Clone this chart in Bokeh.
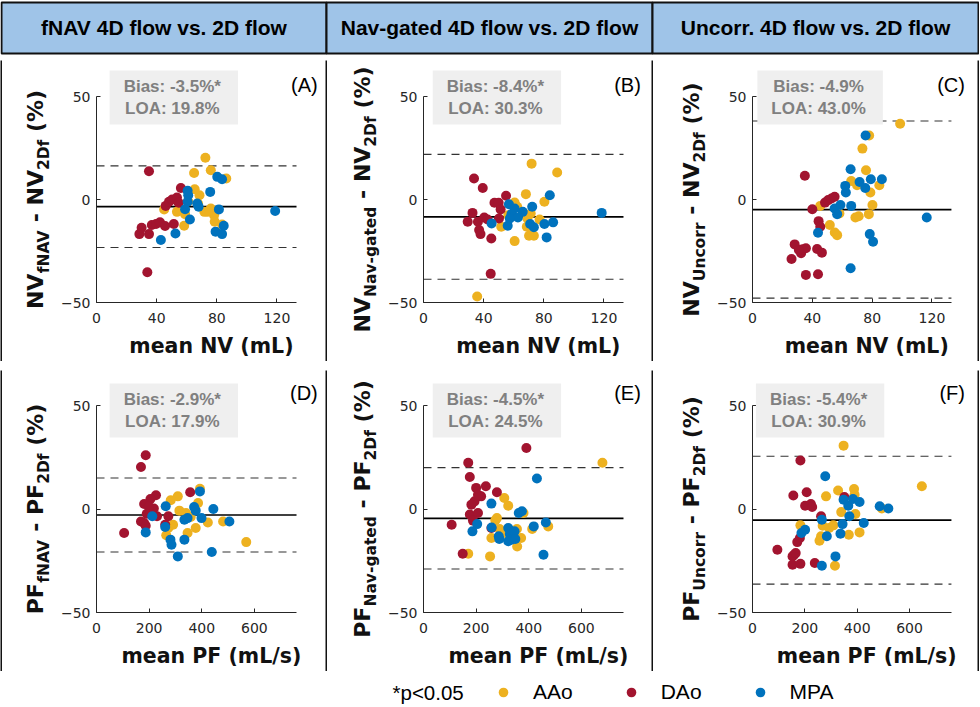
import math
from bokeh.plotting import figure
from bokeh.models import Range1d, FixedTicker, Label, Legend, LegendItem
from bokeh.layouts import row, column
from bokeh.embed import file_html
from bokeh.resources import INLINE

# ---------------- data ----------------
HEADERS = ["fNAV 4D flow vs. 2D flow", "Nav-gated 4D flow vs. 2D flow", "Uncorr. 4D flow vs. 2D flow"]
LETTERS = ["A", "B", "C", "D", "E", "F"]
QTY = ["NV", "NV", "NV", "PF", "PF", "PF"]
SUBS = ["fNAV", "Nav-gated", "Uncorr", "fNAV", "Nav-gated", "Uncorr"]
X_LABELS = ["mean NV (mL)", "mean PF (mL/s)"]
X_TICKS = [[0, 40, 80, 120], [0, 200, 400, 600]]
X_MAX = [133, 760]
Y_TICKS = [-50, 0, 50]
BIAS = [-3.5, -8.4, -4.9, -2.9, -4.5, -5.4]
LOA = [19.8, 30.3, 43.0, 17.9, 24.5, 30.9]
SIG = [True, True, False, True, True, True]
GROUPS = ["AAo", "DAo", "MPA"]

AAO_A_X = [72.4, 64.9, 76.0, 86.3, 65.3, 68.5, 45.0, 53.5, 58.9, 58.3, 71.7, 76.0, 78.2, 78.6, 83.5, 61.0, 67.5, 73.9]
AAO_A_Y = [20.3, 12.9, 14.2, 10.2, 5.0, 2.1, -4.8, -6.0, -7.1, -12.7, -6.0, -4.4, -7.6, -10.8, -12.1, -1.0, -1.9, -6.0]
DAO_A_X = [34.9, 56.1, 28.5, 30.0, 34.9, 36.8, 39.6, 42.2, 45.6, 51.4, 46.0, 48.2, 50.3, 53.5, 33.8, 54.6]
DAO_A_Y = [13.7, 5.6, -16.8, -13.7, -16.8, -12.4, -11.9, -11.1, -12.9, -11.9, -3.1, -1.1, 0.0, 1.0, -35.3, -1.6]
MPA_A_X = [60.6, 75.6, 80.3, 83.5, 60.6, 67.0, 58.9, 67.9, 81.4, 62.1, 42.8, 52.5, 79.2, 83.5, 84.6, 118.8, 61.0]
MPA_A_Y = [4.2, 3.7, 11.0, 9.8, -1.1, -1.9, -4.7, -3.5, -4.8, -9.7, -19.7, -16.5, -15.6, -16.8, -12.7, -5.6, 2.1]

AAO_B_X = [71.9, 88.9, 68.1, 80.4, 60.6, 62.3, 51.7, 60.6, 70.2, 73.4, 68.7, 69.1, 77.2, 35.7, 56.4, 71.3]
AAO_B_Y = [17.4, 13.1, 2.6, -1.1, -1.5, -3.5, -13.2, -20.2, -17.6, -17.6, -13.2, -9.2, -9.7, -47.1, -7.6, -6.8]
DAO_B_X = [33.6, 39.4, 32.6, 29.4, 36.2, 40.4, 37.0, 37.9, 45.1, 47.2, 50.0, 54.9, 51.3, 50.2, 44.7, 42.6]
DAO_B_Y = [10.2, 5.6, -6.5, -10.8, -10.8, -8.7, -14.8, -16.8, -18.9, -1.6, -1.6, 1.8, -4.8, -9.2, -36.1, -9.7]
MPA_B_X = [84.0, 72.3, 56.8, 60.6, 66.0, 58.5, 62.8, 45.3, 56.0, 70.9, 73.4, 80.4, 86.2, 81.9, 118.5, 57.4]
MPA_B_Y = [2.1, -3.5, -2.3, -4.4, -6.0, -7.1, -8.7, -11.6, -12.7, -11.9, -13.5, -11.9, -11.1, -18.4, -6.5, -9.2]

AAO_C_X = [98.7, 78.0, 73.5, 75.9, 66.0, 69.9, 84.8, 78.8, 80.2, 45.3, 58.1, 68.8, 71.0, 77.8, 51.7, 55.0, 56.6]
AAO_C_Y = [36.8, 31.1, 24.7, 14.2, 9.0, 6.9, 6.9, 3.4, -2.7, -3.1, -6.8, -8.7, -8.1, -7.1, -12.4, -16.0, -17.3]
DAO_C_X = [35.0, 40.0, 48.5, 50.6, 52.8, 54.9, 44.2, 45.3, 28.2, 26.1, 32.5, 33.5, 35.7, 43.2, 46.4, 35.7, 43.8, 31.0]
DAO_C_Y = [11.5, -4.7, -1.5, -0.3, 0.5, 1.3, -10.5, -13.2, -21.8, -28.9, -26.1, -24.2, -23.7, -24.0, -25.8, -36.6, -36.3, -24.5]
MPA_C_X = [75.6, 65.6, 71.6, 79.1, 86.5, 75.4, 62.0, 62.4, 58.8, 66.0, 54.9, 56.6, 43.8, 78.4, 80.6, 65.6, 116.5]
MPA_C_Y = [31.1, 14.7, 8.5, 9.8, 9.8, 5.6, 6.6, 3.4, -2.7, -3.1, -4.4, -7.1, -16.1, -16.8, -20.5, -33.4, -8.7]

AAO_D_X = [393, 309, 282, 386, 315, 340, 358, 291, 265, 346, 377, 423, 481, 569, 273]
AAO_D_Y = [9.8, 6.1, 4.2, 2.9, -0.8, -1.9, -3.9, -7.6, -12.7, -11.6, -9.2, -6.5, -6.0, -16.0, -9.2]
DAO_D_X = [187, 169, 105, 226, 356, 205, 181, 218, 169, 181, 187, 230, 273, 261, 199, 191]
DAO_D_Y = [26.0, 20.3, -11.6, 6.6, 8.1, 4.8, 2.4, 0.2, -6.0, -6.8, -8.1, -3.5, -3.5, -7.6, 1.3, -2.3]
MPA_D_X = [393, 263, 371, 444, 212, 334, 346, 377, 399, 261, 505, 187, 281, 285, 334, 309, 438]
MPA_D_Y = [8.5, 1.3, 1.0, 0.0, -3.5, -5.2, -4.4, -0.8, -4.4, -8.7, -6.0, -11.3, -14.8, -17.3, -14.8, -22.9, -20.8]

AAO_E_X = [680, 307, 322, 279, 273, 289, 258, 355, 371, 356, 253, 170, 413, 474, 380, 310]
AAO_E_Y = [22.3, 5.3, 1.6, -4.4, -5.5, -9.7, -14.0, -9.7, -14.0, -18.1, -22.9, -21.6, -9.7, -8.4, -1.9, -11.6]
DAO_E_X = [391, 170, 176, 200, 237, 279, 219, 194, 182, 176, 207, 188, 107, 149, 258, 207]
DAO_E_Y = [29.5, 22.3, 15.5, 10.2, 11.0, 8.1, 6.1, 3.7, 2.1, -2.7, -1.9, -5.6, -7.6, -21.6, -9.2, 6.9]
MPA_E_X = [431, 258, 362, 374, 204, 186, 259, 286, 288, 322, 328, 334, 346, 349, 419, 465, 456, 322]
MPA_E_Y = [14.7, 2.6, -1.9, -1.1, -7.3, -10.8, -8.9, -13.2, -14.5, -9.2, -12.1, -14.8, -10.8, -14.5, -8.4, -6.5, -22.1, -15.6]

AAO_F_X = [348, 647, 327, 388, 390, 281, 339, 393, 494, 183, 268, 293, 309, 262, 256, 368, 409, 315]
AAO_F_Y = [30.6, 11.0, 8.9, 9.7, 6.9, 6.1, -1.5, -2.4, 0.2, -7.9, -8.1, -9.2, -7.9, -13.2, -15.3, -12.4, -11.3, -27.4]
DAO_F_X = [183, 156, 207, 201, 223, 228, 262, 351, 181, 171, 159, 153, 95, 153, 183, 238, 165]
DAO_F_Y = [23.4, 6.5, 8.1, 1.6, 2.4, 1.0, -3.5, 5.8, -14.0, -16.0, -22.1, -22.9, -19.7, -26.9, -26.5, -26.1, -21.3]
MPA_F_X = [278, 348, 366, 384, 409, 486, 519, 370, 425, 265, 344, 201, 187, 284, 336, 317, 265]
MPA_F_Y = [15.8, 4.5, 1.6, 4.8, 3.4, 1.3, 0.2, -3.5, -6.8, -5.2, -7.3, -10.0, -11.6, -13.2, -11.9, -22.9, -27.4]

PANEL_DATA = [
    [(AAO_A_X, AAO_A_Y), (DAO_A_X, DAO_A_Y), (MPA_A_X, MPA_A_Y)],
    [(AAO_B_X, AAO_B_Y), (DAO_B_X, DAO_B_Y), (MPA_B_X, MPA_B_Y)],
    [(AAO_C_X, AAO_C_Y), (DAO_C_X, DAO_C_Y), (MPA_C_X, MPA_C_Y)],
    [(AAO_D_X, AAO_D_Y), (DAO_D_X, DAO_D_Y), (MPA_D_X, MPA_D_Y)],
    [(AAO_E_X, AAO_E_Y), (DAO_E_X, DAO_E_Y), (MPA_E_X, MPA_E_Y)],
    [(AAO_F_X, AAO_F_Y), (DAO_F_X, DAO_F_Y), (MPA_F_X, MPA_F_Y)],
]

# ---------------- styling / layout ----------------
COLORS = ["#EDB120", "#A2142F", "#0072BD"]
TOTAL_W = 979
PANEL_H = 301
XSTRIP_H = 30
PLOT_H = PANEL_H - XSTRIP_H
# per column: (panel width, y-label strip width, plot-left margin, frame width)
COLS = [(323, 55, 31, 207), (324, 57, 31, 207), (324, 60, 31, 206)]
# per row: (px from panel top to y=50, px for -50..50)
ROWS = [(36, 206), (35, 207)]
BOX_CX = [166, 164, 161]
BOX_CY = [37, 40]
LET_RX = [315, 313, 311]
LET_CY = [24, 22]
AX_COLOR = "#262626"
DARK = "#111111"

W_BOLD = {' ': 0.348, '-': 0.415, '(': 0.457, ')': 0.457, '%': 1.002, '2': 0.696, 'A': 0.774,
          'D': 0.830, 'F': 0.683, 'N': 0.837, 'P': 0.733, 'U': 0.812, 'V': 0.774, 'a': 0.675,
          'c': 0.593, 'd': 0.716, 'e': 0.678, 'f': 0.435, 'g': 0.716, 'n': 0.712, 'o': 0.687,
          'r': 0.493, 't': 0.478, 'v': 0.652}


def text_w(s, size):
    return sum(W_BOLD.get(ch, 0.62) for ch in s) * size


def blank_fig(w, h, color="white"):
    f = figure(width=w, height=h, toolbar_location=None, output_backend="svg", title=None,
               x_axis_location=None, y_axis_location=None, min_border=0,
               x_range=Range1d(0, w), y_range=Range1d(0, h))
    f.outline_line_color = None
    f.background_fill_color = color
    f.border_fill_color = color
    f.grid.visible = False
    return f


def make_box_label(**kw):
    try:
        return Label(padding=dict(left=14, right=17, top=6, bottom=6), **kw)
    except Exception:
        try:
            return Label(padding=8, **kw)
        except Exception:
            return Label(**kw)


def make_ylabel_strip(i):
    r, c = divmod(i, 3)
    pw, sw, left, fw = COLS[c]
    top, fh = ROWS[r]
    f = blank_fig(sw, PANEL_H)
    base_main = sw + left - 45          # x of the main text baseline
    base_sub = base_main + 5.5
    cy = PANEL_H - (top + fh / 2)
    q = QTY[i]
    mfs, sfs = 22, 15.5
    pieces = [(q, "m"), (SUBS[i], "s"), (" ", "g"), ("- " + q, "m"), ("2Df", "s"),
              (" ", "g"), ("(%)", "m")]
    lens = [text_w(s, sfs if k == "s" else mfs) for s, k in pieces]
    cum = cy - sum(lens) / 2
    for (s, k), ln in zip(pieces, lens):
        if k != "g":
            fs = sfs if k == "s" else mfs
            xc = (base_main if k == "m" else base_sub) - 0.346 * fs
            f.add_layout(Label(x=xc, y=cum + ln / 2, text=s, angle=math.pi / 2,
                               text_align="center", text_baseline="middle",
                               text_font="DejaVu Sans", text_font_style="bold",
                               text_font_size=f"{fs}px", text_color=DARK))
        cum += ln
    return f


def make_xlabel_strip(i):
    r, c = divmod(i, 3)
    pw, sw, left, fw = COLS[c]
    f = blank_fig(pw - sw, XSTRIP_H)
    f.add_layout(Label(x=left + fw / 2, y=XSTRIP_H - 14, text=X_LABELS[r], text_align="center",
                       text_baseline="middle", text_font="DejaVu Sans", text_font_style="bold",
                       text_font_size="20.5px", text_color=DARK))
    return f


def make_plot(i):
    r, c = divmod(i, 3)
    pw0, sw, left, fw = COLS[c]
    top, fh = ROWS[r]
    xmax = X_MAX[r]
    pw = pw0 - sw
    bottom = PLOT_H - top - fh

    def dx(fx):          # fx: px from left edge of this plot figure
        return (fx - left) / fw * xmax

    def dy(fy):          # fy: px from top edge of this plot figure
        return 50 - (fy - top) / fh * 100

    p = figure(width=pw, height=PLOT_H, x_range=Range1d(0, dx(pw)), y_range=Range1d(-50, dy(0)),
               toolbar_location=None, output_backend="svg", title=None,
               min_border_left=left, min_border_right=0,
               min_border_top=0, min_border_bottom=bottom)
    p.outline_line_color = None
    p.grid.visible = False

    for ax in (p.xaxis[0], p.yaxis[0]):
        ax.axis_line_color = AX_COLOR
        ax.axis_line_width = 1
        ax.major_tick_line_color = AX_COLOR
        ax.major_tick_in = 4
        ax.major_tick_out = 0
        ax.minor_tick_line_color = None
        ax.major_label_text_font = "DejaVu Sans"
        ax.major_label_text_font_size = "14px"
        ax.major_label_text_color = AX_COLOR
    p.xaxis.bounds = (0, xmax)
    p.yaxis.bounds = (-50, 50)
    p.xaxis.ticker = FixedTicker(ticks=X_TICKS[r])
    p.yaxis.ticker = FixedTicker(ticks=Y_TICKS)
    p.xaxis.major_label_standoff = 10
    p.yaxis.major_label_standoff = 6

    # bias and limits of agreement
    b, l = BIAS[i], LOA[i]
    p.segment(x0=[0, 0], x1=[xmax, xmax], y0=[b + l, b - l], y1=[b + l, b - l],
              line_color="#333333", line_width=1.1, line_dash="8 6")
    p.segment(x0=[0], x1=[xmax], y0=[b], y1=[b], line_color="black", line_width=1.7)

    # points
    for (xs, ys), col in zip(PANEL_DATA[i], COLORS):
        p.scatter(xs, ys, size=10, fill_color=col, line_color=None)

    # bias / LOA box
    txt = f"Bias: {b:.1f}%{'*' if SIG[i] else ''}\nLOA: {l:.1f}%"
    p.add_layout(make_box_label(x=dx(BOX_CX[c] - sw), y=dy(BOX_CY[r]), text=txt,
                                text_align="center", text_baseline="middle",
                                text_font="Liberation Sans", text_font_style="bold",
                                text_font_size="17px", text_color="#808080",
                                background_fill_color="#efefef"))

    # panel letter
    p.add_layout(Label(x=dx(LET_RX[c] - sw), y=dy(LET_CY[r]), text=f"({LETTERS[i]})",
                       text_align="right", text_baseline="middle", text_font="Liberation Sans",
                       text_font_size="20px", text_color="black"))
    return p


def vbar():
    return blank_fig(2, PANEL_H, DARK)


def hbar():
    return blank_fig(TOTAL_W, 2, DARK)


def gap(h):
    return blank_fig(TOTAL_W, h, "white")


def panel_row(r):
    items = []
    for c in range(3):
        i = r * 3 + c
        items += [vbar(), make_ylabel_strip(i), column(make_plot(i), make_xlabel_strip(i))]
    items.append(vbar())
    return row(*items)


# header strip
HEAD_H = 58
hf = blank_fig(TOTAL_W, HEAD_H)
hf.quad(left=[1, 326, 652], right=[326, 652, 978], bottom=[5, 5, 5], top=[56, 56, 56],
        fill_color="#9fc4e8", line_color=DARK, line_width=2)
for k, h in enumerate(HEADERS):
    hf.add_layout(Label(x=[163.5, 489, 815][k], y=31, text=h, text_align="center",
                        text_baseline="middle", text_font="Liberation Sans",
                        text_font_style="bold", text_font_size="21px", text_color="black"))

# legend strip
LEG_H = 34
lp = blank_fig(TOTAL_W, LEG_H)
rends = [lp.scatter(x=[-100], y=[-100], size=10, fill_color=c, line_color=None) for c in COLORS]
legend = Legend(items=[LegendItem(label=g, renderers=[rr]) for g, rr in zip(GROUPS, rends)],
                orientation="horizontal", location=(491, 3), glyph_width=24, glyph_height=24,
                label_standoff=18, spacing=46, padding=0, margin=0, border_line_color=None,
                background_fill_alpha=0, label_text_font="Liberation Sans",
                label_text_font_size="21px", label_height=24, label_text_color="black")
lp.add_layout(legend)
lp.add_layout(Label(x=392, y=15, text="*p<0.05", text_align="left", text_baseline="middle",
                    text_font="Liberation Sans", text_font_size="20.5px", text_color="black"))

layout = column(
    hf,
    hbar(),
    panel_row(0),
    hbar(),
    gap(5),
    hbar(),
    panel_row(1),
    hbar(),
    lp,
)

open("out.html", "w").write(file_html(layout, INLINE))
